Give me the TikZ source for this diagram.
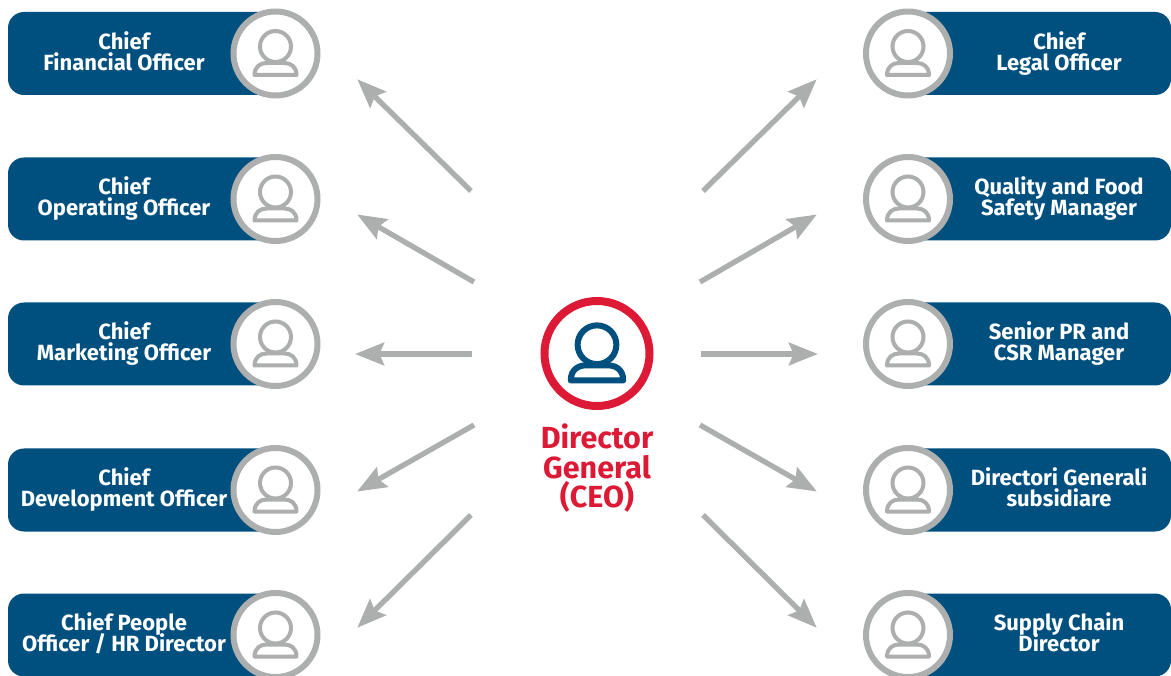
\documentclass[tikz,border=0pt]{standalone}
\usepackage{fontspec}
\setmainfont{Fira Sans}
\usetikzlibrary{arrows.meta}
\definecolor{navy}{HTML}{00507F}
\definecolor{greyc}{HTML}{ADAFAF}
\definecolor{redc}{HTML}{DC1A35}
\tikzset{
  x=1pt,y=-1pt,
  barbox/.style={fill=navy,draw=none,rounded corners=16pt,minimum height=83pt,inner sep=0pt,outer sep=0pt},
  ring/.style={circle,draw=greyc,line width=6pt,fill=white,minimum size=84pt,inner sep=0pt},
  bigring/.style={circle,draw=redc,line width=8pt,fill=white,minimum size=105pt,inner sep=0pt},
  barlabel/.style={text=white,font=\fontsize{22}{21}\selectfont\bfseries,align=center,inner sep=0pt,
     execute at begin node={\lineskiplimit=-20pt\strut},execute at end node=\strut,yshift=-0.6pt},
  ceolabel/.style={text=redc,font=\fontsize{30.5}{29.5}\selectfont\bfseries,align=center,inner sep=0pt,
     execute at begin node={\lineskiplimit=-20pt\strut},execute at end node=\strut},
  link/.style={draw=greyc,line width=5.3pt,-{Stealth[length=29pt,width=22.5pt,inset=4.5pt]},shorten >=-1pt},
  pics/usericon/.style n args={2}{code={
    \draw[draw=#1,line width=#2,line join=round,fill=white]
      (-21,21.5) .. controls (-21,13) and (-15,9.5) .. (-9,9.5) -- (9,9.5)
      .. controls (15,9.5) and (21,13) .. (21,21.5) -- cycle;
    \draw[draw=#1,line width=#2,fill=white] (0,-7) circle[radius=15.5];
  }}
}
\begin{document}
\begin{tikzpicture}
\useasboundingbox (0,0) rectangle (1171,676);
% left column
\foreach \n/\y/\t in {1/53.5/{Chief\\Financial Officer},2/199/{Chief\\Operating Officer},3/344/{Chief\\Marketing Officer},4/490/{Chief\\Development Officer},5/635/{Chief People\\Officer / HR Director}}{
  \node[barbox,minimum width=267pt] (lb\n) at (141.5,\y) {};
  \node[ring] (lc\n) at (275.5,\y) {};
  \pic at (lc\n.center) {usericon={greyc}{4pt}};
  \node[barlabel] (lt\n) at (124,\y) {\t};
}
% right column
\foreach \n/\y/\t in {1/53.5/{Chief\\Legal Officer},2/199/{Quality and Food\\Safety Manager},3/344/{Senior PR and\\CSR Manager},4/490/{Directori Generali\\subsidiare},5/635/{Supply Chain\\Director}}{
  \node[barbox,minimum width=263pt] (rb\n) at (1039.5,\y) {};
  \node[ring] (rc\n) at (908,\y) {};
  \pic at (rc\n.center) {usericon={greyc}{4pt}};
  \node[barlabel] (rt\n) at (1059,\y) {\t};
}
% centre
\node[bigring] (ceo) at (597,353.5) {};
\pic[scale=1.25] at (ceo.center) {usericon={navy}{6pt}};
\node[ceolabel] (ceot) at (597,470.5) {Director\\General\\(CEO)};
% arrow ends
\foreach \n/\ax/\ay/\bx/\by in {
  1/471/191/358/80, 2/474/282/358/215, 3/472/354/356/354, 4/474/425/358/491, 5/471/515/358/627}{
  \coordinate (ls\n) at (\ax,\ay);
  \coordinate (le\n) at (\bx,\by);
  \draw[link] (ls\n) -- (le\n);
}
\foreach \n/\ax/\ay/\bx/\by in {
  1/703/191/816/80, 2/700/282/816/215, 3/701/354/817/354, 4/700/425/816/491, 5/703/515/816/627}{
  \coordinate (rs\n) at (\ax,\ay);
  \coordinate (re\n) at (\bx,\by);
  \draw[link] (rs\n) -- (re\n);
}
\end{tikzpicture}
\end{document}
